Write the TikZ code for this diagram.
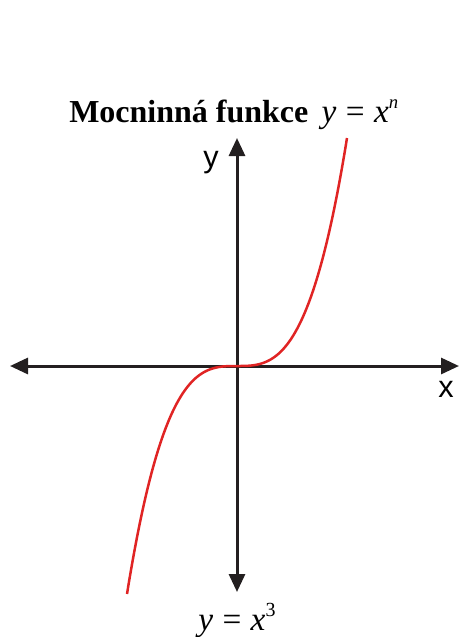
\documentclass[tikz,border=0pt]{standalone}
\usepackage{fontspec}
\setmainfont{Liberation Serif}
\newfontfamily\axisfont{Liberation Sans}
\usetikzlibrary{arrows.meta}
\definecolor{curvered}{HTML}{E02424}
\definecolor{axisblack}{HTML}{231F20}
\tikzset{
  axis/.style={line width=3pt*0.75, draw=axisblack, {Triangle[length=18pt*0.75,width=16pt*0.75]}-{Triangle[length=18pt*0.75,width=16pt*0.75]}},
  curve/.style={line width=2.5pt*0.75, draw=curvered},
  axlabel/.style={font=\axisfont\fontsize{23}{26}\selectfont, inner sep=0pt},
  title/.style={font=\fontsize{25}{30}\selectfont, inner sep=0pt},
}
\newcommand{\eqsp}{\hspace{0.28em}}
\begin{document}
\begin{tikzpicture}[x=0.75pt,y=-0.75pt]
\useasboundingbox (0,0) rectangle (459,637);
\coordinate (L) at (10,366);
\coordinate (R) at (459,366);
\coordinate (T) at (237,138);
\coordinate (B) at (237,592);
\draw[axis] (L) -- (R);
\draw[axis] (B) -- (T);
\draw[curve] plot[domain=-110:110, samples=120, smooth] ({237+\x}, {366-228*(\x/110)^3});
\node[axlabel, anchor=base] (ylab) at (211,167) {y};
\node[axlabel, anchor=base] (xlab) at (446,397) {x};
\node[title, anchor=base west] (title) at (69,122) {{\fontsize{24}{28}\selectfont\textbf{Mocninná funkce}}\hspace{0.4em}\textit{y}\eqsp=\eqsp\textit{x}\raisebox{0.42em}{\fontsize{14}{15}\selectfont\textit{n}}};
\node[title, anchor=base] (eq) at (237,630) {\textit{y}\eqsp=\eqsp\textit{x}\raisebox{0.42em}{\fontsize{15}{16}\selectfont 3}};
\end{tikzpicture}
\end{document}
